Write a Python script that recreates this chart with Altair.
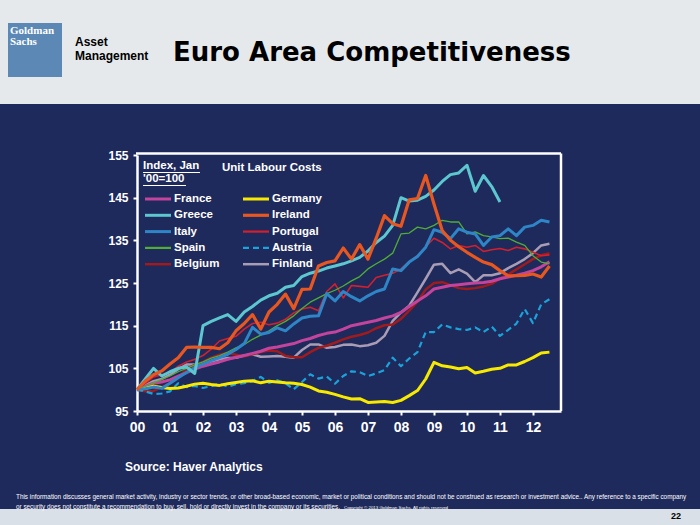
import altair as alt
import pandas as pd

# ---------------- data ----------------
countries = ["France", "Germany", "Greece", "Ireland", "Italy",
             "Portugal", "Spain", "Austria", "Belgium", "Finland"]
year_labels = ["00", "01", "02", "03", "04", "05", "06", "07", "08", "09", "10", "11", "12"]
y_ticks = [95, 105, 115, 125, 135, 145, 155]
quarters = [2000 + q / 4 for q in range(51)]  # 2000Q1 .. 2012Q3

france = [100, 100.8, 101.5, 101.8, 102.3, 103.2, 104.0, 104.8, 105.5, 106.0, 106.5, 107.1,
          107.6, 108.0, 108.5, 109.0, 109.7, 110.0, 110.4, 110.8, 111.5, 112.0, 112.7, 113.2,
          113.5, 114.2, 115.0, 115.4, 115.8, 116.2, 116.8, 117.3, 118.1, 119.5, 120.8, 122.0,
          123.6, 124.0, 124.4, 124.6, 124.8, 125.0, 125.1, 125.4, 126.0, 126.4, 126.8, 127.3,
          127.9, 128.8, 130.0]
germany = [100, 100.3, 100.8, 100.5, 100.3, 100.4, 100.8, 101.3, 101.5, 101.2, 101.0, 101.4,
           101.7, 102.0, 102.1, 101.6, 102.0, 101.8, 101.6, 101.5, 101.2, 100.6, 99.7, 99.4,
           98.9, 98.3, 97.8, 97.9, 97.0, 97.1, 97.2, 97.0, 97.5, 98.6, 99.8, 102.5,
           106.4, 105.6, 105.3, 104.9, 105.2, 103.9, 104.3, 104.8, 105.0, 105.8, 105.8, 106.6,
           107.5, 108.6, 108.8]
greece = [100, 102.5, 105.0, 103.2, 104.2, 105.0, 105.3, 103.8, 115.0, 116.0, 116.8, 117.6,
          116.0, 118.2, 119.5, 121.0, 122.0, 122.6, 124.0, 124.4, 126.5, 127.3, 127.8, 128.5,
          129.0, 129.5, 130.2, 131.0, 132.5, 134.5, 136.0, 138.5, 145.0, 144.2, 144.4, 145.3,
          146.8, 148.8, 150.4, 150.8, 152.6, 146.5, 150.2, 147.6, 144.0,
          None, None, None, None, None, None]
ireland = [100, 102.0, 103.5, 104.4, 106.0, 107.5, 109.9, 110.0, 109.9, 109.9, 109.6, 111.0,
           113.8, 115.5, 117.6, 114.2, 118.2, 120.0, 122.4, 119.0, 123.5, 123.6, 129.0, 129.8,
           130.2, 133.2, 130.6, 134.0, 130.6, 135.5, 140.8, 138.9, 138.3, 144.5, 144.8, 150.2,
           143.5, 137.3, 135.0, 133.5, 132.2, 131.0, 129.9, 129.3, 127.9, 126.7, 126.7, 126.8,
           127.1, 126.4, 129.0]
italy = [100, 100.2, 100.6, 100.3, 101.5, 102.8, 104.0, 105.2, 106.0, 106.8, 107.5, 108.3,
         109.4, 110.8, 114.6, 113.0, 113.4, 114.5, 113.8, 115.4, 116.8, 117.2, 117.3, 122.5,
         120.8, 123.0, 121.8, 120.8, 122.0, 123.0, 123.6, 128.3, 127.9, 129.9, 131.2, 133.4,
         137.5, 136.9, 135.4, 137.7, 136.9, 136.5, 133.8, 135.8, 136.1, 137.7, 136.1, 138.1,
         138.5, 139.7, 139.3]
portugal = [100, 101.5, 103.0, 103.5, 104.0, 105.5, 106.5, 107.1, 108.0, 109.5, 111.4, 112.0,
            112.5, 114.2, 115.5, 115.8, 115.2, 115.6, 116.5, 118.0, 118.9, 119.3, 118.5, 123.0,
            124.8, 121.5, 124.4, 124.2, 124.0, 126.3, 126.8, 127.3, 128.3, 130.0, 131.4, 133.5,
            135.5, 134.5, 133.0, 133.8, 133.4, 133.8, 132.4, 132.8, 133.1, 132.6, 133.4, 133.0,
            132.2, 131.4, 131.6]
spain = [100, 100.8, 101.6, 102.4, 103.2, 104.2, 105.0, 105.8, 106.5, 107.4, 108.0, 108.8,
         109.8, 110.6, 111.8, 112.8, 113.8, 115.0, 116.0, 117.3, 119.0, 120.5, 121.5, 122.5,
         123.3, 124.3, 125.5, 126.5, 128.3, 129.5, 130.6, 132.0, 136.5, 136.7, 138.1, 137.7,
         138.5, 139.7, 139.3, 139.3, 136.5, 137.0, 136.1, 135.8, 135.4, 135.5, 134.6, 133.8,
         131.4, 129.9, 129.5]
austria = [100, 99.6, 99.0, 99.1, 99.6, 101.5, 100.6, 100.9, 100.4, 100.8, 101.4, 100.7,
           101.3, 101.5, 102.0, 103.0, 101.6, 102.2, 101.5, 100.1, 101.8, 103.6, 102.6, 103.1,
           101.4, 103.2, 104.3, 104.1, 103.2, 103.8, 104.6, 107.5, 105.5, 107.3, 108.8, 113.5,
           113.5, 115.3, 114.6, 114.2, 114.0, 114.6, 113.5, 114.8, 112.6, 114.0, 115.5, 118.9,
           115.6, 120.0, 121.2]
belgium = [100, 99.6, 99.7, 100.6, 101.5, 102.8, 104.8, 105.8, 106.5, 107.5, 108.2, 108.6,
           108.2, 107.8, 108.3, 108.8, 109.2, 109.0, 107.9, 107.6, 107.6, 108.8, 109.8, 110.3,
           111.0, 111.8, 112.4, 112.8, 113.4, 114.4, 115.1, 115.3, 116.6, 118.5, 120.6, 123.5,
           125.0, 125.2, 124.5, 123.8, 123.6, 123.8, 124.2, 124.8, 126.0, 127.0, 128.2, 129.4,
           130.6, 131.5, 132.0]
finland = [100, 101.0, 102.0, 102.5, 103.5, 104.8, 105.9, 105.9, 106.0, 106.6, 107.1, 107.4,
           107.5, 108.0, 108.3, 107.7, 107.8, 107.9, 107.7, 107.5, 109.3, 110.6, 110.6, 109.8,
           110.0, 110.5, 110.6, 110.2, 110.4, 111.0, 112.6, 116.1, 118.1, 119.7, 122.8, 126.0,
           129.3, 129.5, 127.3, 128.2, 127.2, 125.2, 126.8, 126.8, 127.3, 128.5, 129.5, 130.6,
           132.0, 133.8, 134.2]

series = {"France": france, "Germany": germany, "Greece": greece, "Ireland": ireland,
          "Italy": italy, "Portugal": portugal, "Spain": spain, "Austria": austria,
          "Belgium": belgium, "Finland": finland}

title_text = "Euro Area Competitiveness"
index_lines = ["Index, Jan", "'00=100"]
chart_label = "Unit Labour Costs"
source_text = "Source: Haver Analytics"
disclaimer_1 = ("This information discusses general market activity, industry or sector trends, or other "
                "broad-based economic, market or political conditions and should not be construed as research "
                "or investment advice.. Any reference to a specific company")
disclaimer_2 = ("or security does not constitute a recommendation to buy, sell, hold or directly invest in "
                "the company or its securities.")
copyright_text = "Copyright \u00a9 2013 Goldman Sachs. All rights reserved"
page_number = "22"

# ---------------- styles ----------------
NAVY = "#1e295c"
SANS = "Liberation Sans, Arial, sans-serif"
colors = {"France": "#c2449c", "Germany": "#f7ea00", "Greece": "#5cc7cf", "Ireland": "#e8571f",
          "Italy": "#2e86c7", "Portugal": "#d3202d", "Spain": "#50ad35", "Austria": "#1ba3d9",
          "Belgium": "#9f1b1d", "Finland": "#a99db5"}
widths = {"France": 3, "Germany": 3, "Greece": 3, "Ireland": 3.2, "Italy": 3,
          "Portugal": 1.6, "Spain": 1.3, "Austria": 2.2, "Belgium": 2.5, "Finland": 2.5}
draw_order = ["Finland", "Belgium", "France", "Austria", "Germany", "Portugal",
              "Spain", "Italy", "Greece", "Ireland"]

PX, PY = 137, 155      # plot origin on page
W, H = 424, 256        # plot size
one = pd.DataFrame({"k": [0]})


def rect(x1, y1, x2, y2, color):
    return alt.Chart(one).mark_rect(color=color).encode(
        x=alt.value(x1 - PX), x2=alt.value(x2 - PX),
        y=alt.value(y1 - PY), y2=alt.value(y2 - PY))


def text(x, y, s, size, color="white", weight="bold", font=SANS, align="left"):
    return alt.Chart(one).mark_text(
        text=s, fontSize=size, color=color, fontWeight=weight, font=font,
        align=align, baseline="middle").encode(x=alt.value(x - PX), y=alt.value(y - PY))


def rule(x1, x2, y, color, width, dash=None):
    kw = dict(color=color, strokeWidth=width)
    if dash:
        kw["strokeDash"] = dash
    return alt.Chart(one).mark_rule(**kw).encode(
        x=alt.value(x1 - PX), x2=alt.value(x2 - PX), y=alt.value(y - PY))


label_expr = "[" + ",".join("'%s'" % s for s in year_labels) + "][datum.value - 2000]"

xscale = alt.Scale(domain=[2000, 2012.85], nice=False, zero=False)
yscale = alt.Scale(domain=[95, 155], nice=False, zero=False)
xaxis = alt.Axis(
    values=list(range(2000, 2013)), labelExpr=label_expr, title=None, grid=False,
    domainColor="white", domainWidth=2.5, tickColor="white", tickSize=4, tickWidth=2,
    labelColor="white", labelFont=SANS, labelFontWeight="bold", labelFontSize=14,
    labelPadding=5, labelFlush=False)
yaxis = alt.Axis(
    values=y_ticks, title=None, grid=False,
    domainColor="white", domainWidth=2.5, tickColor="white", tickSize=4, tickWidth=2,
    labelColor="white", labelFont=SANS, labelFontWeight="bold", labelFontSize=12,
    labelPadding=5)

layers = []
# page decorations
layers.append(rect(0, 0, 700, 104, "#e6e9ec"))
layers.append(rect(0, 509, 700, 525, "#d9e0e7"))
layers.append(rect(8, 23, 62, 77, "#5b88b5"))
layers.append(text(10, 31, "Goldman", 11, font="Liberation Serif, serif"))
layers.append(text(10, 41.5, "Sachs", 11, font="Liberation Serif, serif"))
layers.append(text(75, 42, "Asset", 12, color="black"))
layers.append(text(75, 56, "Management", 12, color="black"))
layers.append(text(173, 53, title_text, 26, color="black", font="DejaVu Sans, sans-serif"))
layers.append(text(125, 467, source_text, 12))
layers.append(text(16, 497, disclaimer_1, 6.35, weight="normal"))
layers.append(text(16, 507, disclaimer_2, 6.35, weight="normal"))
layers.append(text(344, 507.5, copyright_text, 4.4, weight="normal"))
layers.append(text(676, 516, page_number, 9, color="black", align="center"))

# data lines
for c in draw_order:
    df = pd.DataFrame({"t": quarters, "v": series[c]}).dropna()
    kw = dict(color=colors[c], strokeWidth=widths[c], strokeJoin="round")
    if c == "Austria":
        kw["strokeDash"] = [6, 4]
    layers.append(alt.Chart(df).mark_line(**kw).encode(
        x=alt.X("t:Q", scale=xscale, axis=xaxis),
        y=alt.Y("v:Q", scale=yscale, axis=yaxis)))

# plot frame (top and right)
layers.append(rule(136, 561, 153.5, "white", 2.5))
layers.append(alt.Chart(one).mark_rule(color="white", strokeWidth=2.5).encode(
    x=alt.value(561 - PX), y=alt.value(153.5 - PY), y2=alt.value(411 - PY)))

# legend
layers.append(text(143, 166, index_lines[0], 11.5))
layers.append(rule(143, 200, 172.5, "white", 1))
layers.append(text(143, 179, index_lines[1], 11.5))
layers.append(rule(143, 186, 185.5, "white", 1))
layers.append(text(222, 168, chart_label, 11.5))
for i, c in enumerate(countries):
    row, col = i // 2, i % 2
    y = 199 + 16.3 * row
    x0 = 145 if col == 0 else 243
    dash = [6, 4] if c == "Austria" else None
    layers.append(rule(x0, x0 + 26, y, colors[c], max(widths[c], 2.2), dash))
    layers.append(text(x0 + 29, y, c, 11.5))

chart = alt.layer(*layers).properties(
    width=W, height=H,
    padding={"left": PX, "top": PY, "right": 700 - PX - W, "bottom": 525 - PY - H},
    autosize=alt.AutoSizeParams(type="none"),
    background=NAVY,
).configure_view(strokeWidth=0)

chart.save("out.html", embed_options={"renderer": "svg", "actions": False})
